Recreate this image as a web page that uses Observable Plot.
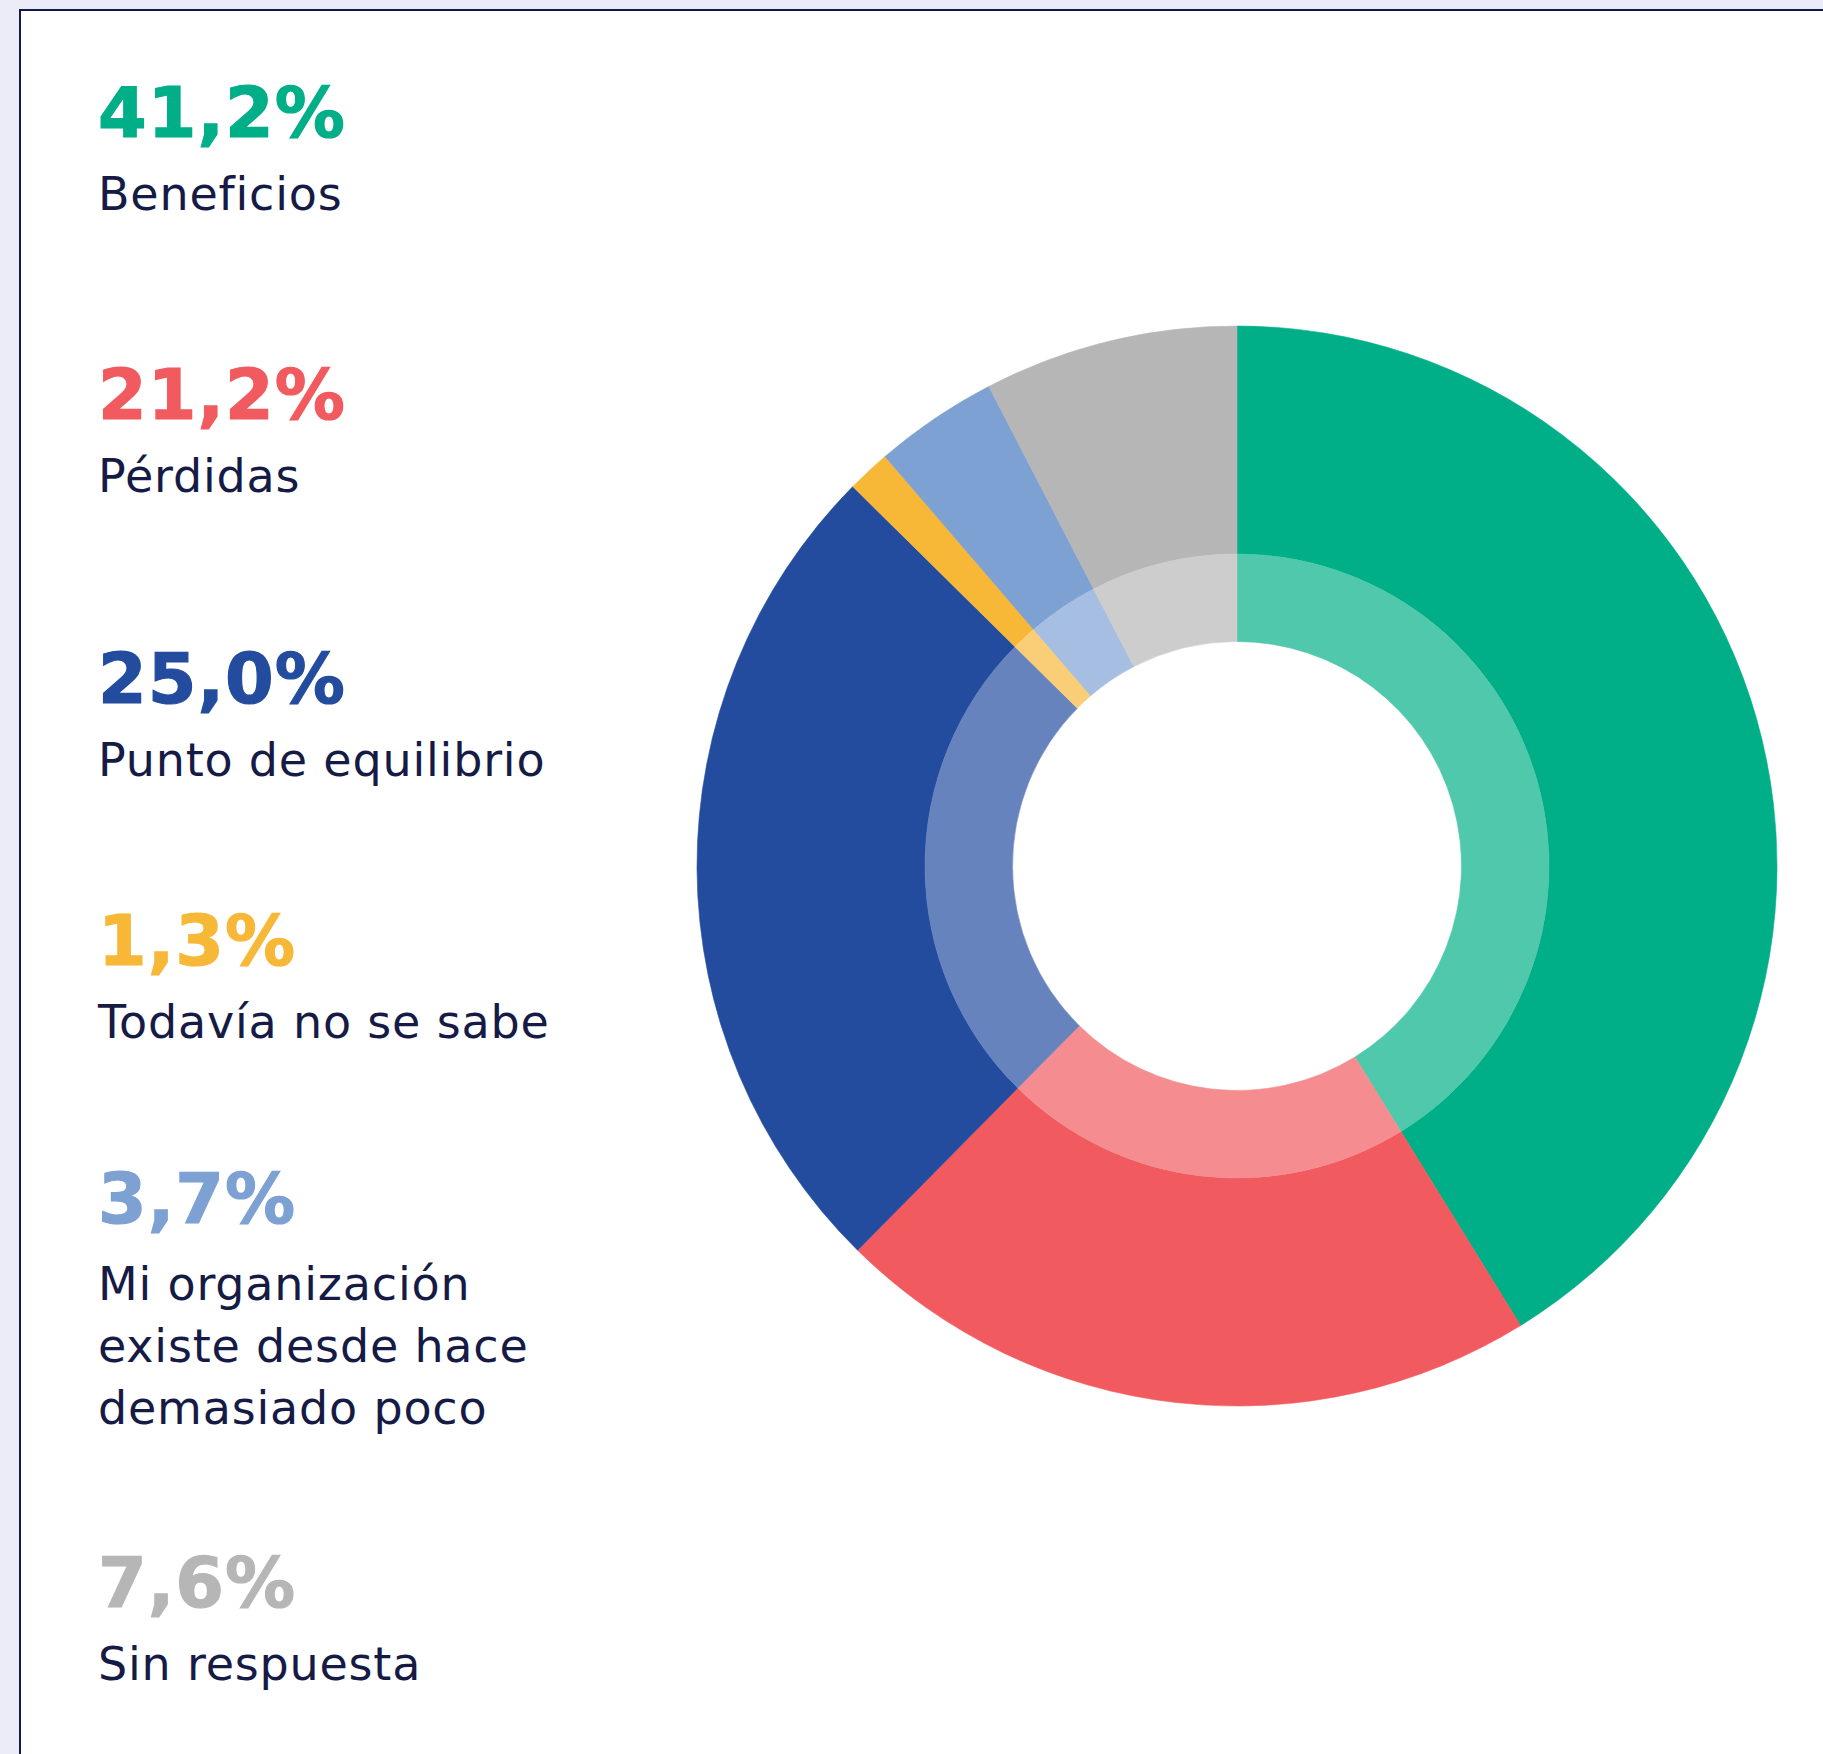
<!DOCTYPE html>
<html>
<head>
<meta charset="utf-8">
<script src="https://cdn.jsdelivr.net/npm/d3@7"></script>
<script src="https://cdn.jsdelivr.net/npm/@observablehq/plot@0.6"></script>
<style>
  html, body { margin: 0; padding: 0; }
  body { width: 1823px; height: 1754px; background: #ECECF8; position: relative; overflow: hidden; }
  #panel { position: absolute; left: 19px; top: 9px; width: 1900px; height: 1900px;
           background: #fff; border-left: 2px solid #131945; border-top: 2px solid #131945; }
  #legend .item { position: absolute; left: 98px; }
  #legend .pct { font-family: "DejaVu Sans", sans-serif; font-weight: 700; font-size: 70px;
                 line-height: 70px; letter-spacing: 1px; height: 70px; white-space: nowrap;
                 -webkit-text-stroke: 1.2px currentColor; }
  #legend .lab { font-family: "DejaVu Sans", sans-serif; font-size: 46px; line-height: 62px;
                 letter-spacing: 0.8px; color: #161B45; margin-top: 15px; white-space: pre-line; }
  #legend .item:nth-child(1) { top: 78px; }
  #legend .item:nth-child(2) { top: 360px; }
  #legend .item:nth-child(3) { top: 644px; }
  #legend .item:nth-child(4) { top: 906px; }
  #legend .item:nth-child(5) { top: 1164px; }
  #legend .item:nth-child(6) { top: 1548px; }
  #legend .item:nth-child(5) .lab { margin-top: 19px; }
  #chart { position: absolute; left: 687px; top: 316px; }
</style>
</head>
<body>
<div id="panel"></div>
<div id="legend"></div>
<div id="chart"></div>
<script>
// ---- data ----
const categories = [
  "Beneficios",
  "Pérdidas",
  "Punto de equilibrio",
  "Todavía no se sabe",
  "Mi organización\nexiste desde hace\ndemasiado poco",
  "Sin respuesta"
];
const values = [41.2, 21.2, 25.0, 1.3, 3.7, 7.6];
const pctLabels = ["41,2%", "21,2%", "25,0%", "1,3%", "3,7%", "7,6%"];

// ---- styling ----
const palette = ["#00AF87", "#F15A5E", "#234C9F", "#F7B838", "#7EA1D3", "#B6B6B6"];
const R_HOLE = 224.5, R_MID = 312, R_OUTER = 540, INNER_TINT = 0.31;

const rows = categories.map((c, i) => ({category: c, value: values[i]}));

function ring(r0, r1, tint) {
  return Plot.barX(rows, Plot.stackX({
    x: "value",
    fill: "category",
    order: null,
    render(index, scales, vals, dims) {
      const cx = dims.marginLeft + (dims.width - dims.marginLeft - dims.marginRight) / 2;
      const cy = dims.marginTop + (dims.height - dims.marginTop - dims.marginBottom) / 2;
      const arc = d3.arc().innerRadius(r0).outerRadius(r1);
      const col = i => d3.interpolateRgb(vals.fill[i], "#fff")(tint);
      const g = d3.create("svg:g").attr("transform", `translate(${cx},${cy})`);
      g.selectAll("path").data(index).join("path")
        .attr("d", i => arc({startAngle: vals.x1[i], endAngle: vals.x2[i]}))
        .attr("fill", col)
        .attr("stroke", col)
        .attr("stroke-width", 0.6);
      return g.node();
    }
  }));
}

const chart = Plot.plot({
  width: 1100,
  height: 1100,
  margin: 0,
  x: {domain: [0, 100], range: [0, 2 * Math.PI], axis: null},
  y: {axis: null},
  color: {domain: categories, range: palette},
  marks: [
    ring(R_MID, R_OUTER, 0),
    ring(R_HOLE, R_MID, INNER_TINT)
  ]
});
document.getElementById("chart").append(chart);

// ---- legend (HTML) ----
const legend = d3.select("#legend");
categories.forEach((c, i) => {
  const item = legend.append("div").attr("class", "item");
  item.append("div").attr("class", "pct").style("color", palette[i]).text(pctLabels[i]);
  item.append("div").attr("class", "lab").text(c);
});
</script>
</body>
</html>
